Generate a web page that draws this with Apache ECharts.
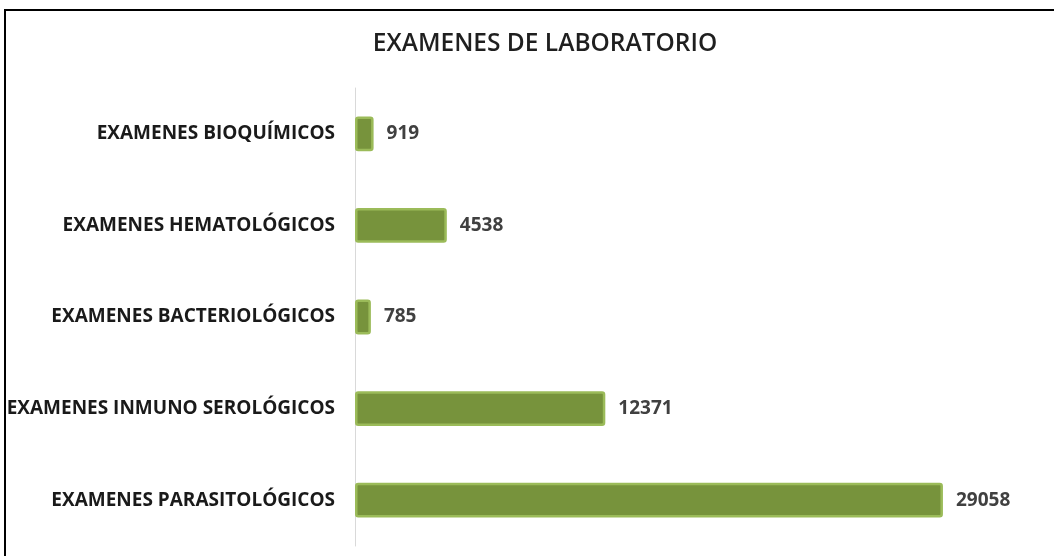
<!DOCTYPE html>
<html>
<head>
<meta charset="utf-8">
<script src="https://cdn.jsdelivr.net/npm/echarts@6/dist/echarts.min.js"></script>
<style>
  html, body { margin: 0; padding: 0; background: #fff; }
  #frame {
    position: absolute; left: 4px; top: 9px; width: 1060px; height: 560px;
    border-left: 2px solid #000; border-top: 2px solid #000;
  }
  #chart { position: absolute; left: 0; top: 0; width: 1054px; height: 556px; }
</style>
</head>
<body>
<div id="frame"></div>
<div id="chart"></div>
<script>
const categories = [
  'EXAMENES PARASITOLÓGICOS',
  'EXAMENES INMUNO SEROLÓGICOS',
  'EXAMENES BACTERIOLÓGICOS',
  'EXAMENES HEMATOLÓGICOS',
  'EXAMENES BIOQUÍMICOS'
];
const values = [29058, 12371, 785, 4538, 919];

function renderLabChart() {
  const chart = echarts.init(document.getElementById('chart'));
  chart.setOption({
    animation: false,
    title: {
      text: 'EXAMENES DE LABORATORIO',
      left: 540,
      top: 27,
      textAlign: 'center',
      textStyle: { fontFamily: 'Open Sans', fontSize: 24.5, fontWeight: 600, color: '#1f1f1f' }
    },
    grid: { left: 355, right: 92, top: 88, bottom: 10 },
    xAxis: {
      type: 'value',
      min: 0,
      max: 30000,
      show: false
    },
    yAxis: {
      type: 'category',
      data: categories,
      axisLine: { show: true, lineStyle: { color: '#d9d9d9', width: 1 } },
      axisTick: { show: false },
      axisLabel: {
        margin: 20,
        fontFamily: 'Open Sans',
        fontWeight: 'bold',
        fontSize: 19,
        color: '#1a1a1a'
      }
    },
    series: [{
      type: 'bar',
      data: values,
      barWidth: '38%',
      itemStyle: { color: '#77933c', borderColor: '#9bbb59', borderWidth: 2.5, borderRadius: 2 },
      label: {
        show: true,
        position: 'right',
        distance: 13,
        fontFamily: 'Open Sans',
        fontWeight: 'bold',
        fontSize: 19,
        color: '#404040'
      }
    }]
  });
  window.addEventListener('resize', () => chart.resize());
}

renderLabChart();
</script>
</body>
</html>
